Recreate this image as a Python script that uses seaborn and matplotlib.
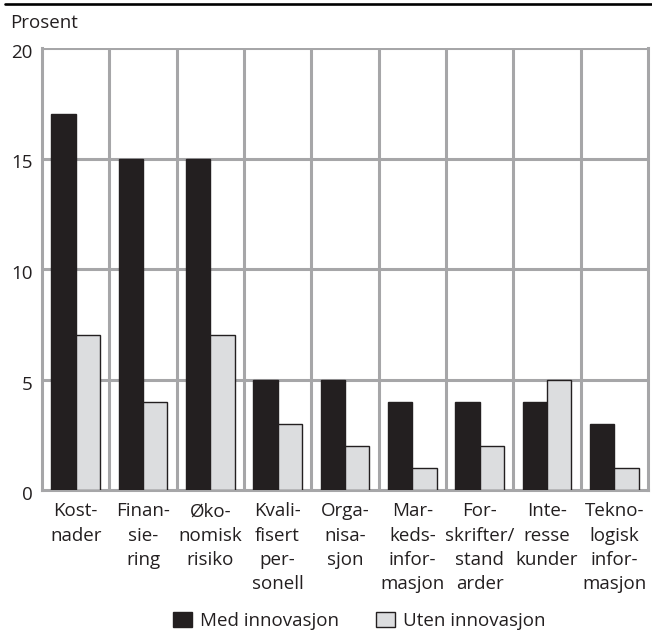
import matplotlib
matplotlib.use("Agg")
import matplotlib.pyplot as plt
import seaborn as sns
import pandas as pd
from matplotlib.lines import Line2D
from matplotlib.patches import Patch
from matplotlib.transforms import ScaledTranslation

categories = ["Kost-\nnader", "Finan-\nsie-\nring", "Øko-\nnomisk\nrisiko",
              "Kvali-\nfisert\nper-\nsonell", "Orga-\nnisa-\nsjon",
              "Mar-\nkeds-\ninfor-\nmasjon", "For-\nskrifter/\nstand\narder",
              "Inte-\nresse\nkunder", "Tekno-\nlogisk\ninfor-\nmasjon"]
med = [17, 15, 15, 5, 5, 4, 4, 4, 3]
uten = [7, 4, 7, 3, 2, 1, 2, 5, 1]
series = ["Med innovasjon", "Uten innovasjon"]
yticks = [0, 5, 10, 15, 20]

sns.set_style("white")
plt.rcParams["font.family"] = ["Open Sans", "DejaVu Sans"]
FS = 13.5
TXT = "#231f20"

df = pd.DataFrame({
    "cat": categories * 2,
    "val": med + uten,
    "serie": [series[0]] * len(med) + [series[1]] * len(uten),
})

fig = plt.figure(figsize=(6.52, 6.34), dpi=100)
ax = fig.add_axes([42/652, 1-490/634, (648-42)/652, (490-48)/634])

palette = {series[0]: "#231f20", series[1]: "#dcdddf"}
sns.barplot(data=df, x="cat", y="val", hue="serie", palette=palette,
            width=0.72, edgecolor="#231f20", linewidth=1, saturation=1,
            ax=ax, legend=False, zorder=3)

gc = "#a6a6a8"
ax.set_ylim(0, 20)
ax.set_xlim(-0.5, len(categories) - 0.5)
ax.set_yticks(yticks)
ax.set_yticklabels([str(t) for t in yticks], fontsize=FS, color=TXT)
for t in yticks[1:]:
    ax.axhline(t, color=gc, lw=2.2, zorder=1)
for i in range(len(categories) - 1):
    ax.axvline(i + 0.5, color=gc, lw=2.2, zorder=1)
for s in ["left", "right", "bottom"]:
    ax.spines[s].set_color(gc)
    ax.spines[s].set_linewidth(2.2)
ax.spines["top"].set_visible(False)
ax.tick_params(axis="y", length=0, pad=6.5)
ax.tick_params(axis="x", length=0, pad=9)
ax.set_xticklabels(categories, fontsize=FS, color=TXT, linespacing=1.44)
ax.set_xlabel("")
ax.set_ylabel("")
for lab in ax.get_yticklabels():
    lab.set_transform(lab.get_transform() + ScaledTranslation(0, -3/100, fig.dpi_scale_trans))

fig.text(10/652, 1-28.5/634, "Prosent", fontsize=FS, color=TXT, va="baseline", ha="left")
fig.add_artist(Line2D([5/652, 1], [1-4/634, 1-4/634], color="black", lw=1.9,
                      transform=fig.transFigure))

handles = [Patch(facecolor=palette[s], edgecolor="#231f20", lw=1) for s in series]
fig.legend(handles, series, loc="center", bbox_to_anchor=(0.551, 1-621/634), ncol=2,
           frameon=False, fontsize=FS, handlelength=1.0, handleheight=0.9,
           handletextpad=0.43, columnspacing=2.0, labelcolor=TXT)

fig.savefig("out.png", dpi=100)
